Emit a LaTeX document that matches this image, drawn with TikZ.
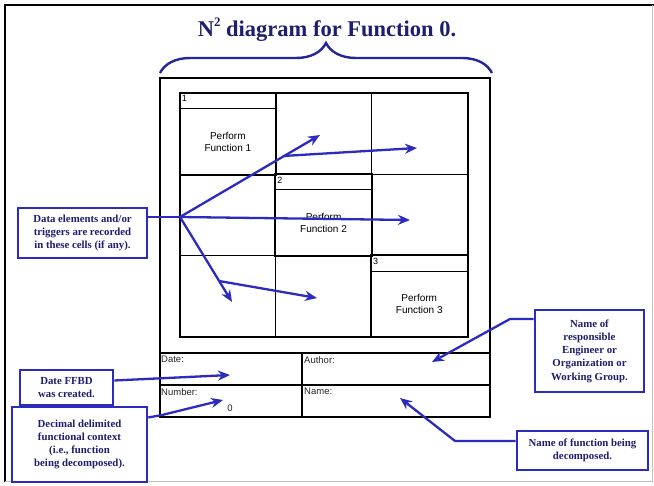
\documentclass[tikz,border=0pt]{standalone}
\usepackage{fontspec}
\setmainfont{Liberation Serif}
\setsansfont{Liberation Sans}
\usetikzlibrary{arrows.meta,decorations.pathreplacing}
\definecolor{calloutblue}{HTML}{2B2BC0}
\definecolor{calloutink}{HTML}{1E1E6E}
\definecolor{bracenavy}{HTML}{25259A}

\begin{document}
\begin{tikzpicture}[x=1pt, y=-1pt, >={Stealth[length=12pt,width=10pt]},
    every node/.style={inner sep=0pt},
    cell/.style={draw=black, line width=0.9pt, minimum width=95.7pt, minimum height=81.3pt},
    fnbox/.style={draw=black, line width=2pt},
    celltext/.style={font=\sffamily\fontsize{10}{12}\selectfont, align=center},
    formtext/.style={font=\sffamily\fontsize{9.5}{11}\selectfont, text=black!85},
    callout/.style={draw=calloutblue, line width=2.6pt, fill=white, align=center,
                    font=\bfseries\fontsize{10.8}{13.2}\selectfont, text=calloutink},
    feed/.style={calloutblue, line width=2.3pt}]

  \useasboundingbox (0,0) rectangle (654,486);

  %% page frame
  \draw[black, line width=2pt] (654,5) -- (5,5) -- (5,482);
  \draw[black!25, line width=1pt] (5,482) -- (652,482) -- (652,5);

  %% title and brace
  \node[font=\bfseries\fontsize{22.5}{26}\selectfont, text=calloutink] (title) at (327,30)
       {N\raisebox{0.45em}{\fontsize{13}{13}\selectfont 2} diagram for Function 0.};
  \draw[bracenavy, line width=2.4pt,
        decorate, decoration={brace, amplitude=30pt, aspect=0.5}] (160,73) -- (492,73);

  %% sheet with the form rows
  \draw[black, line width=1.4pt] (160,78) rectangle (490,417);
  \draw[black, line width=1.4pt] (160,353) -- (490,353);
  \draw[black, line width=1.4pt] (160,385) -- (490,385);
  \draw[black, line width=1.4pt] (302,353) -- (302,417);

  %% 3 x 3 grid
  \foreach \r in {1,2,3}
    \foreach \c in {1,2,3}
      \node[cell] (c\r\c) at ({180+95.7*(\c-0.5)},{93+81.3*(\r-0.5)}) {};
  \draw[black, line width=2pt] (c11.north west) rectangle (c33.south east);

  %% function cells on the diagonal
  \foreach \k in {1,2,3} {
    \draw[fnbox] (c\k\k.north west) rectangle (c\k\k.south east);
    \draw[black, line width=1.2pt] ([yshift=-16pt]c\k\k.north west) -- ([yshift=-16pt]c\k\k.north east);
    \node[font=\sffamily\fontsize{9}{10}\selectfont, anchor=north west] (n\k)
         at ([xshift=2pt,yshift=-3pt]c\k\k.north west) {\k};
    \node[celltext] (f\k) at ([yshift=-8pt]c\k\k.center) {Perform\\Function \k};
  }

  %% form fields
  \node[formtext, anchor=north west] (date)   at (161,356) {Date:};
  \node[formtext, anchor=north west] (author) at (304,356) {Author:};
  \node[formtext, anchor=north west] (number) at (161,388) {Number:};
  \node[formtext, anchor=north west] (name)   at (304,388) {Name:};
  \node[formtext] (zero) at (230,408) {0};

  %% callouts
  \node[callout, minimum width=129pt, minimum height=50pt] (data) at (82.5,233)
       {Data elements and/or\\triggers are recorded\\in these cells (if any).};
  \node[callout, minimum width=93pt, minimum height=35pt] (ffbd) at (66.5,387.5)
       {Date FFBD\\was created.};
  \node[callout, minimum width=135pt, minimum height=75pt] (context) at (79.5,444.5)
       {Decimal delimited\\functional context\\(i.e., function\\being decomposed).};
  \node[callout, minimum width=109pt, minimum height=82pt] (owner) at (589.5,351)
       {Name of\\responsible\\Engineer or\\Organization or\\Working Group.};
  \node[callout, minimum width=131pt, minimum height=39pt] (fname) at (582.5,450.5)
       {Name of function being\\decomposed.};

  %% data element arrows
  \coordinate (hub)   at (180,217);
  \coordinate (tipA)  at (320,135);
  \coordinate (forkA) at (283,156);
  \coordinate (tipB)  at (417,148);
  \coordinate (tipC)  at (410,220);
  \coordinate (tipD)  at (232,302);
  \coordinate (forkD) at (219,281);
  \coordinate (tipE)  at (317,298);
  \draw[feed] (data.east |- hub) -- (hub);
  \draw[feed, ->] (hub) -- (tipA);
  \draw[feed, ->] (forkA) -- (tipB);
  \draw[feed, ->] (hub) -- (tipC);
  \draw[feed, ->] (hub) -- (tipD);
  \draw[feed, ->] (forkD) -- (tipE);

  %% form arrows
  \coordinate (dateTip)   at (230,375);
  \coordinate (numBend)   at (162,415);
  \coordinate (numTip)    at (223,400);
  \coordinate (ownerBend) at (510,319);
  \coordinate (ownerTip)  at (432,362);
  \coordinate (nameBend)  at (455,441);
  \coordinate (nameTip)   at (400,398);
  \draw[feed, ->] ([yshift=7pt]ffbd.east) -- (dateTip);
  \draw[feed, ->] ([yshift=27pt]context.east) -- (numBend) -- (numTip);
  \draw[feed, ->] ([yshift=32pt]owner.west) -- (ownerBend) -- (ownerTip);
  \draw[feed, ->] ([yshift=9.5pt]fname.west) -- (nameBend) -- (nameTip);

\end{tikzpicture}
\end{document}
